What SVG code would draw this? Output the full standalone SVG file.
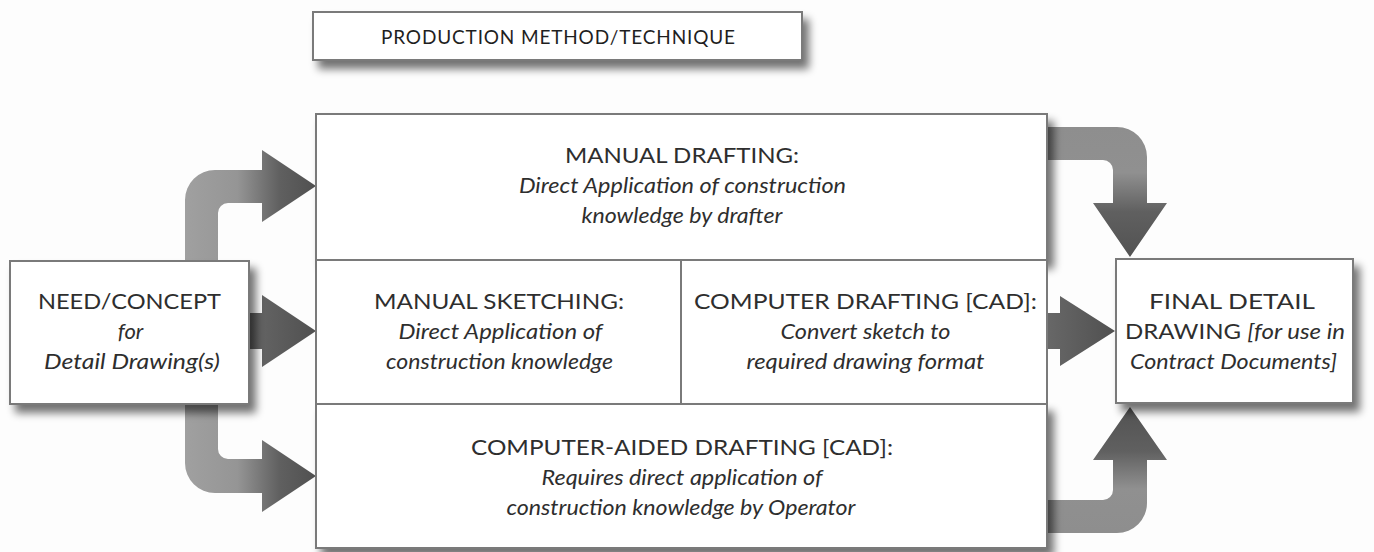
<svg xmlns="http://www.w3.org/2000/svg" width="1374" height="552" viewBox="0 0 1374 552">
<style>
.box{fill:#fff;stroke:#7a7a7a;stroke-width:2}
.cap{font-family:Lato,"Open Sans",sans-serif;font-size:22px;fill:#2e2e2e;text-anchor:middle}
.it{font-family:Lato,"Open Sans",sans-serif;font-style:italic;font-size:22px;fill:#2e2e2e;text-anchor:middle}
.ttl{font-family:Lato,"Open Sans",sans-serif;font-size:19px;fill:#1f1f1f;text-anchor:middle}
.dark{fill:url(#gDark)}
</style>
<defs>
<filter id="sh" x="-10%" y="-25%" width="130%" height="170%">
<feGaussianBlur in="SourceAlpha" stdDeviation="4.5"/>
<feOffset dx="6" dy="8" result="b"/>
<feComponentTransfer><feFuncA type="linear" slope="0.55"/></feComponentTransfer>
<feMerge><feMergeNode/><feMergeNode in="SourceGraphic"/></feMerge>
</filter>
<linearGradient id="gTL" x1="185" y1="0" x2="316" y2="0" gradientUnits="userSpaceOnUse">
<stop offset="0" stop-color="#a0a0a0"/><stop offset="0.4" stop-color="#959595"/><stop offset="0.72" stop-color="#606060"/><stop offset="1" stop-color="#505050"/>
</linearGradient>
<linearGradient id="gDark" x1="0" y1="0" x2="1" y2="0">
<stop offset="0" stop-color="#6a6a6a"/><stop offset="1" stop-color="#505050"/>
</linearGradient>
<linearGradient id="gTR" x1="0" y1="127" x2="0" y2="257" gradientUnits="userSpaceOnUse">
<stop offset="0" stop-color="#8e8e8e"/><stop offset="0.35" stop-color="#909090"/><stop offset="0.65" stop-color="#606060"/><stop offset="1" stop-color="#525252"/>
</linearGradient>
<linearGradient id="gBR" x1="0" y1="533" x2="0" y2="407" gradientUnits="userSpaceOnUse">
<stop offset="0" stop-color="#8e8e8e"/><stop offset="0.35" stop-color="#909090"/><stop offset="0.65" stop-color="#606060"/><stop offset="1" stop-color="#525252"/>
</linearGradient>
</defs>
<rect width="1374" height="552" fill="#fdfdfd"/>

<g id="connectors">
<path fill="url(#gTL)" d="M185,262 V200 A30,30 0 0 1 215,170 H262 V150 L316,186 L262,222 V203 H228 A10,10 0 0 0 218,213 V262 Z"/>
<path class="dark" d="M240,313 H262 V295 L316,331 L262,367 V349 H240 Z"/>
<path fill="url(#gTL)" d="M185,400 V463 A30,30 0 0 0 215,493 H262 V512 L316,476 L262,440 V459 H228 A10,10 0 0 1 218,449 V400 Z"/>
<path fill="url(#gTR)" d="M1040,127 H1117 A30,30 0 0 1 1147,157 V203 H1167 L1130,257 L1093,203 H1113 V170 A10,10 0 0 0 1103,160 H1040 Z"/>
<path class="dark" d="M1040,313 H1060 V296 L1115,331 L1060,366 V349 H1040 Z"/>
<path fill="url(#gBR)" d="M1040,500 H1103 A10,10 0 0 0 1113,490 V460 H1093 L1130,407 L1167,460 H1147 V503 A30,30 0 0 1 1117,533 H1040 Z"/>
</g>

<g id="title">
<rect class="box" x="313" y="12" width="489" height="48" filter="url(#sh)"/>
<text class="ttl" x="558" y="44" textLength="354" lengthAdjust="spacing">PRODUCTION METHOD/TECHNIQUE</text>
</g>

<g id="need">
<rect class="box" x="10" y="261" width="239" height="143" filter="url(#sh)"/>
<text class="cap" x="129.5" y="309" textLength="183" lengthAdjust="spacingAndGlyphs">NEED/CONCEPT</text>
<text class="it" x="130.5" y="339">for</text>
<text class="it" x="132" y="369" textLength="176" lengthAdjust="spacingAndGlyphs">Detail Drawing(s)</text>
</g>

<g id="manual-drafting">
<rect class="box" x="316" y="114" width="731" height="146" filter="url(#sh)"/>
<text class="cap" x="682" y="163" textLength="234" lengthAdjust="spacingAndGlyphs">MANUAL DRAFTING:</text>
<text class="it" x="682.5" y="193" textLength="327" lengthAdjust="spacingAndGlyphs">Direct Application of construction</text>
<text class="it" x="682" y="223" textLength="201" lengthAdjust="spacingAndGlyphs">knowledge by drafter</text>
</g>

<g id="manual-sketching">
<rect class="box" x="316" y="260" width="365" height="144"/>
<text class="cap" x="499" y="309" textLength="250" lengthAdjust="spacingAndGlyphs">MANUAL SKETCHING:</text>
<text class="it" x="500.5" y="339" textLength="204" lengthAdjust="spacingAndGlyphs">Direct Application of</text>
<text class="it" x="499.5" y="369" textLength="227" lengthAdjust="spacingAndGlyphs">construction knowledge</text>
</g>

<g id="computer-drafting">
<rect class="box" x="681" y="260" width="366" height="144"/>
<text class="cap" x="865.5" y="309" textLength="343" lengthAdjust="spacingAndGlyphs">COMPUTER DRAFTING [CAD]:</text>
<text class="it" x="865.5" y="339" textLength="170" lengthAdjust="spacingAndGlyphs">Convert sketch to</text>
<text class="it" x="865.5" y="369" textLength="238" lengthAdjust="spacingAndGlyphs">required drawing format</text>
</g>

<g id="computer-aided">
<rect class="box" x="316" y="404" width="731" height="144" filter="url(#sh)"/>
<text class="cap" x="682" y="455" textLength="422" lengthAdjust="spacingAndGlyphs">COMPUTER-AIDED DRAFTING [CAD]:</text>
<text class="it" x="682" y="485" textLength="281" lengthAdjust="spacingAndGlyphs">Requires direct application of</text>
<text class="it" x="681" y="515" textLength="349" lengthAdjust="spacingAndGlyphs">construction knowledge by Operator</text>
</g>

<g id="final">
<rect class="box" x="1116" y="259" width="237" height="144" filter="url(#sh)"/>
<text class="cap" x="1232" y="309" textLength="166" lengthAdjust="spacingAndGlyphs">FINAL DETAIL</text>
<text class="cap" x="1235" y="339" textLength="220" lengthAdjust="spacingAndGlyphs">DRAWING <tspan font-style="italic">[for use in</tspan></text>
<text class="it" x="1233.5" y="369" textLength="207" lengthAdjust="spacingAndGlyphs">Contract Documents]</text>
</g>
</svg>
